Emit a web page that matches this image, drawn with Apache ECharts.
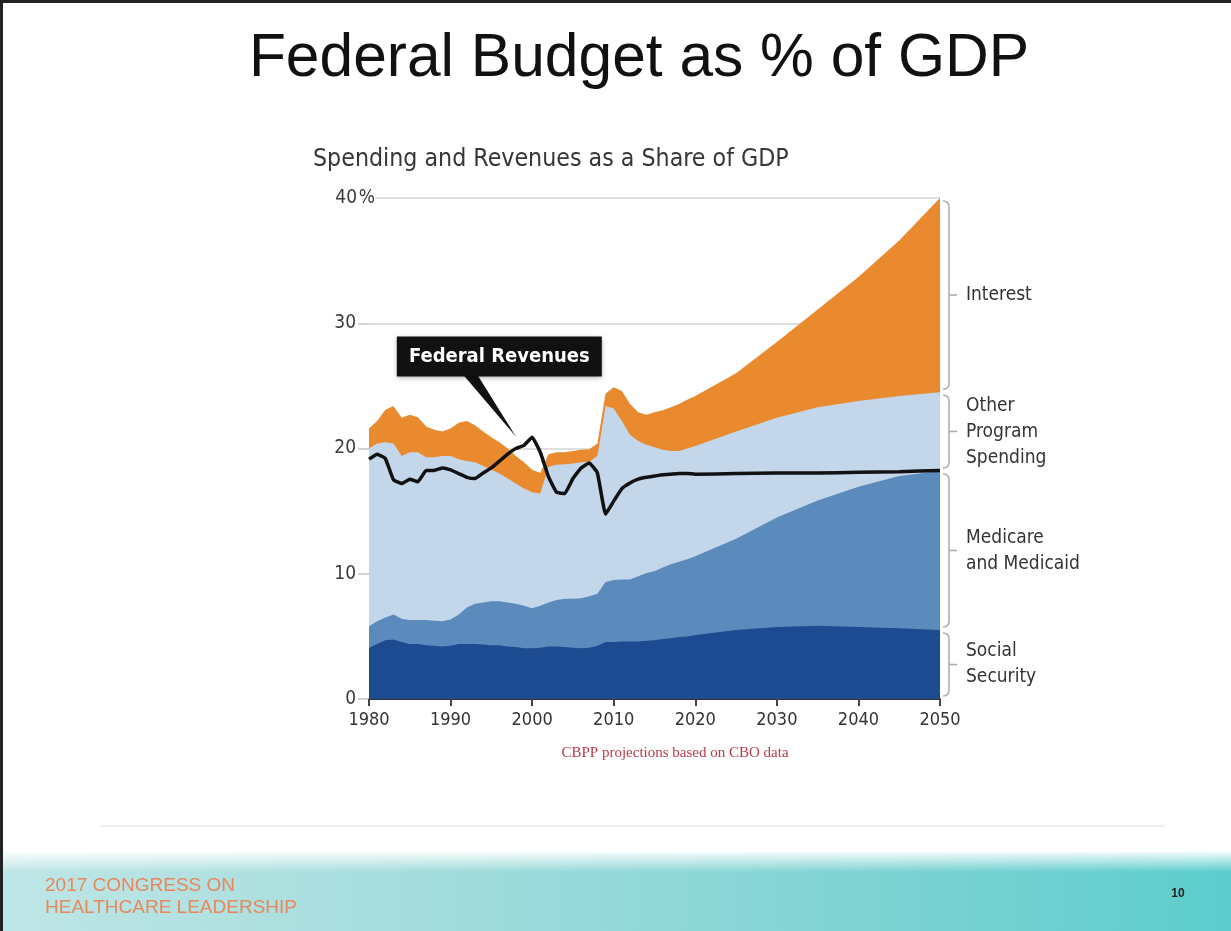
<!DOCTYPE html>
<html>
<head>
<meta charset="utf-8">
<title>Federal Budget as % of GDP</title>
<script src="https://cdn.jsdelivr.net/npm/echarts@6/dist/echarts.min.js"></script>
<style>
  html, body { margin: 0; padding: 0; background: #fff; }
  #chart { width: 1231px; height: 931px; }
</style>
</head>
<body>
<div id="chart"></div>
<script>
// Fiscal years on the horizontal axis (annual history, five-year steps in the projection)
const years = [1980,1981,1982,1983,1984,1985,1986,1987,1988,1989,
  1990,1991,1992,1993,1994,1995,1996,1997,1998,1999,
  2000,2001,2002,2003,2004,2005,2006,2007,2008,2009,
  2010,2011,2012,2013,2014,2015,2016,2017,2018,2019,
  2020,2025,2030,2035,2040,2045,2050];

// Spending components, % of GDP (stacked from the bottom up)
const socialSecurity = [4.1,4.4,4.7,4.75,4.55,4.4,4.4,4.3,4.25,4.2,
  4.25,4.4,4.4,4.4,4.35,4.3,4.3,4.2,4.15,4.05,
  4.05,4.1,4.2,4.2,4.15,4.1,4.05,4.1,4.25,4.55,
  4.55,4.6,4.6,4.6,4.65,4.7,4.8,4.85,4.95,5.0,
  5.1,5.5,5.75,5.85,5.75,5.65,5.5];
const medicareMedicaid = [1.7,1.8,1.8,2.0,1.85,1.9,1.9,2.0,2.0,2.0,
  2.1,2.35,2.9,3.2,3.35,3.5,3.5,3.5,3.45,3.4,
  3.2,3.35,3.5,3.7,3.85,3.9,4.0,4.1,4.15,4.8,
  4.95,4.95,4.95,5.2,5.4,5.5,5.7,5.9,6.0,6.15,
  6.3,7.3,8.75,10.0,11.2,12.15,12.7];
const otherPrograms = [14.2,14.2,14.0,13.65,13.0,13.4,13.4,13.0,13.05,13.2,
  13.05,12.4,11.7,11.3,10.9,10.5,10.2,9.9,9.6,9.35,
  9.25,8.95,10.85,10.8,10.75,10.8,10.85,10.75,11.0,14.05,
  13.7,12.65,11.55,10.8,10.25,9.9,9.4,9.05,8.85,8.85,
  8.8,8.55,7.95,7.45,6.85,6.4,6.3];
const netInterest = [1.6,1.8,2.6,3.0,3.05,3.0,2.8,2.45,2.2,1.95,
  2.2,2.9,3.2,2.95,2.75,2.6,2.5,2.4,2.2,2.1,
  1.8,1.65,1.0,1.0,0.95,1.0,1.0,1.0,1.0,1.0,
  1.7,2.4,2.45,2.3,2.4,2.8,3.15,3.5,3.75,3.9,
  4.0,4.65,6.05,7.8,9.9,12.4,15.5];

// Federal revenues, % of GDP
const federalRevenues = [19.15,19.55,19.2,17.5,17.2,17.55,17.35,18.25,18.25,18.45,
  18.3,18.0,17.7,17.6,18.05,18.45,19.0,19.55,20.0,20.25,
  20.9,19.7,17.75,16.5,16.4,17.6,18.45,18.85,18.05,14.75,
  15.8,16.8,17.25,17.55,17.7,17.8,17.9,17.95,18.0,18.0,
  17.95,18.0,18.05,18.05,18.1,18.15,18.25];

// Axis ticks
const xTicks = { min: 1980, max: 2050, step: 10 };
const yTicks = { min: 0, max: 40, step: 10 };

// Band names, bottom band first
const bandNames = ['Social Security', 'Medicare and Medicaid', 'Other Program Spending', 'Interest'];
const bandLabels = ['Social\nSecurity', 'Medicare\nand Medicaid', 'Other\nProgram\nSpending', 'Interest'];

const COND = "'DejaVu Sans Condensed', 'DejaVu Sans', sans-serif";
const bandColors = ['#1d4b92', '#5b8bbd', '#c4d6ea', '#e98a2f'];

// Running totals of the components: each band's upper edge
const comps = [socialSecurity, medicareMedicaid, otherPrograms, netInterest];
const tops = [];
comps.forEach((c, k) => {
  tops.push(c.map((v, i) => +(v + (k ? tops[k - 1][i] : 0)).toFixed(3)));
});

const pairs = arr => years.map((y, i) => [y, arr[i]]);

// Opaque areas filled down to zero, drawn from the highest edge down,
// so each band shows between its own edge and the one beneath it
const areaSeries = tops.map((t, k) => ({
  name: bandNames[k], type: 'line', data: pairs(t),
  symbol: 'none', lineStyle: { width: 0 },
  areaStyle: { color: bandColors[k], opacity: 1, origin: 'start' },
  itemStyle: { color: bandColors[k] },
  silent: true, z: 2 + (tops.length - k) * 0.01
})).reverse();

// Bracket bands at the final year
const last = years.length - 1;
const bands = tops.map((t, k) => [years[last], k ? tops[k - 1][last] : 0, t[last]]);

const chart = echarts.init(document.getElementById('chart'), null, { renderer: 'canvas' });

chart.setOption({
  animation: false,
  backgroundColor: '#ffffff',
  grid: { left: 369, right: 291, top: 198, bottom: 232, containLabel: false },
  xAxis: {
    type: 'value', min: xTicks.min, max: xTicks.max, interval: xTicks.step,
    axisLine: { show: true, lineStyle: { color: '#333', width: 2 } },
    axisTick: { show: true, length: 7, lineStyle: { color: '#444', width: 2 } },
    splitLine: { show: false },
    axisLabel: { margin: 12, fontSize: 18, color: '#333', fontFamily: COND, formatter: v => String(v) }
  },
  yAxis: {
    type: 'value', min: yTicks.min, max: yTicks.max, interval: yTicks.step,
    axisLine: { show: false },
    axisTick: { show: true, length: 11, lineStyle: { color: '#c4c4c4', width: 1.5 } },
    splitLine: { show: true, lineStyle: { color: '#d4d4d4', width: 1.5 } },
    axisLabel: {
      margin: -6, color: '#3a3a3a', fontSize: 19, fontFamily: COND,
      formatter: v => v === yTicks.max ? '{n|' + v + '}{p|%}' : '{n|' + v + '}{s|}',
      rich: {
        n: { fontSize: 19, fontFamily: COND, color: '#3a3a3a' },
        p: { fontSize: 19, fontFamily: COND, color: '#3a3a3a', width: 18, backgroundColor: '#fff' },
        s: { width: 19 }
      }
    }
  },
  series: areaSeries.concat([
    {
      name: 'Federal Revenues', type: 'line', data: pairs(federalRevenues),
      symbol: 'none', smooth: 0.1,
      lineStyle: { color: '#111', width: 3.5 }, itemStyle: { color: '#111' },
      silent: true, z: 5
    },
    {
      name: 'Bands', type: 'custom', clip: false, silent: true, z: 6,
      data: bands,
      encode: { x: 0, y: [1, 2] },
      renderItem: (params, api) => {
        const pLo = api.coord([api.value(0), api.value(1)]);
        const pHi = api.coord([api.value(0), api.value(2)]);
        const x = pLo[0] + 9;
        const top = pHi[1] + 3;
        const bot = pLo[1] - 3;
        const mid = (top + bot) / 2;
        const d = `M ${x - 6} ${top} Q ${x} ${top} ${x} ${top + 6} L ${x} ${bot - 6} Q ${x} ${bot} ${x - 6} ${bot}` +
                  ` M ${x} ${mid} L ${x + 8} ${mid}`;
        return {
          type: 'group',
          children: [
            { type: 'path', shape: { pathData: d },
              style: { stroke: '#a9a9a9', lineWidth: 1.5, fill: null } },
            { type: 'text',
              style: { text: bandLabels[params.dataIndex], x: x + 17, y: mid,
                       align: 'left', verticalAlign: 'middle',
                       fontSize: 19, lineHeight: 26, fontFamily: COND, fill: '#333' } }
          ]
        };
      }
    }
  ])
});

// Callout pointing at the revenue line in 1998
const calloutYear = 1998;
const ci = years.indexOf(calloutYear);
const anchor = chart.convertToPixel({ xAxisIndex: 0, yAxisIndex: 0 }, [calloutYear, federalRevenues[ci]]);
const tip = [anchor[0], anchor[1] - 12];
const box = { x: tip[0] - 119, y: tip[1] - 100, w: 205, h: 40 };

chart.setOption({
  graphic: [
    // slide frame
    { type: 'rect', shape: { x: 0, y: 0, width: 1231, height: 3 }, style: { fill: '#222' }, z: 10 },
    { type: 'rect', shape: { x: 0, y: 0, width: 3, height: 931 }, style: { fill: '#222' }, z: 10 },
    // title and subtitle
    { type: 'text', z: 10, style: { text: 'Federal Budget as % of GDP', x: 639, y: 59,
        align: 'center', verticalAlign: 'middle', fontSize: 60.5,
        fontFamily: "'Liberation Sans', Arial, sans-serif", fill: '#111' } },
    { type: 'text', z: 10, style: { text: 'Spending and Revenues as a Share of GDP', x: 313, y: 160,
        align: 'left', verticalAlign: 'middle', fontSize: 24.7, fontFamily: COND, fill: '#363636' } },
    // source note
    { type: 'text', z: 10, style: { text: 'CBPP projections based on CBO data', x: 675, y: 753,
        align: 'center', verticalAlign: 'middle', fontSize: 15,
        fontFamily: "'Liberation Serif', 'Times New Roman', serif", fill: '#b73a4b' } },
    // thin divider
    { type: 'rect', shape: { x: 100, y: 825, width: 1065, height: 2 }, style: { fill: '#efefef' }, z: 1 },
    // footer band
    { type: 'rect', z: 1, shape: { x: 3, y: 852, width: 1228, height: 79 },
      style: { fill: new echarts.graphic.LinearGradient(0, 0, 1, 0, [
        { offset: 0, color: '#bfe6e6' }, { offset: 0.35, color: '#a3dcdc' },
        { offset: 0.7, color: '#7fd3d3' }, { offset: 1, color: '#5ccdcd' }]) } },
    { type: 'rect', z: 2, shape: { x: 3, y: 850, width: 1228, height: 22 },
      style: { fill: new echarts.graphic.LinearGradient(0, 0, 0, 1, [
        { offset: 0, color: 'rgba(255,255,255,1)' }, { offset: 1, color: 'rgba(255,255,255,0)' }]) } },
    { type: 'text', z: 10, style: { text: '2017 CONGRESS ON\nHEALTHCARE LEADERSHIP', x: 45, y: 897,
        align: 'left', verticalAlign: 'middle', fontSize: 19, lineHeight: 22,
        fontFamily: "'Liberation Sans', Arial, sans-serif", fill: '#e8875b' } },
    { type: 'text', z: 10, style: { text: '10', x: 1178, y: 894, align: 'center', verticalAlign: 'middle',
        fontSize: 12, fontWeight: 'bold', fontFamily: "'Liberation Sans', Arial, sans-serif", fill: '#222' } },
    // revenue callout
    { type: 'polygon', z: 20, shape: { points: [[tip[0] - 52, box.y + box.h - 1], [tip[0] - 38, box.y + box.h - 1], tip] },
      style: { fill: '#111' } },
    { type: 'rect', z: 20, shape: { x: box.x, y: box.y, width: box.w, height: box.h },
      style: { fill: '#111', shadowBlur: 5, shadowColor: 'rgba(0,0,0,0.35)', shadowOffsetY: 1 } },
    { type: 'text', z: 21, style: { text: 'Federal Revenues', x: box.x + box.w / 2, y: box.y + box.h / 2,
        align: 'center', verticalAlign: 'middle', fontSize: 20, fontWeight: 'bold', fontFamily: COND, fill: '#fff' } }
  ]
});
</script>
</body>
</html>
